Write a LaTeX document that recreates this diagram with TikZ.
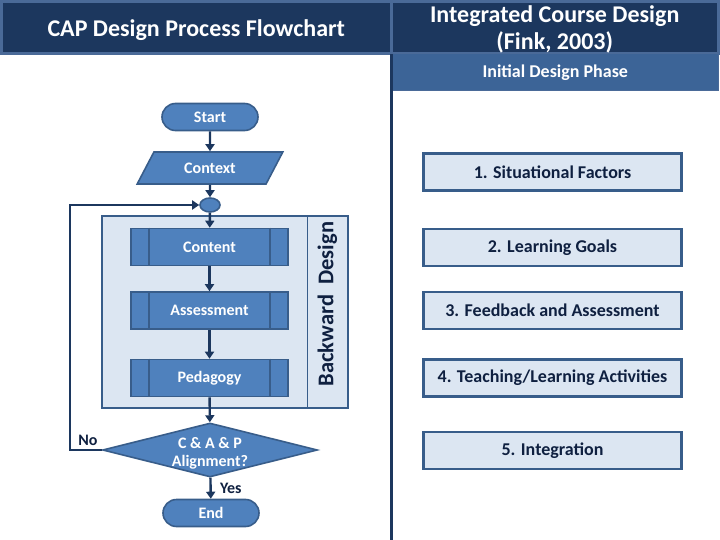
\documentclass[tikz,border=0pt]{standalone}
\usepackage{fontspec}
\setmainfont{Carlito}
\usetikzlibrary{shapes.geometric,shapes.misc,arrows.meta}
\definecolor{navy}{HTML}{1C375E}
\definecolor{navyedge}{HTML}{4A6A98}
\definecolor{phaseblue}{HTML}{3C6497}
\definecolor{flowfill}{HTML}{4F81BD}
\definecolor{flowedge}{HTML}{385D8A}
\definecolor{paleblue}{HTML}{DCE6F2}
\definecolor{darktext}{HTML}{0F2040}
\newcommand{\fsz}[1]{\fontsize{#1}{1.15\dimexpr#1pt\relax}\selectfont}

\tikzset{
	flowshape/.style={fill=flowfill,draw=flowedge,line width=1.6pt,text=white,font=\bfseries\fsz{16}},
	terminal/.style={flowshape,rounded rectangle,minimum width=96pt,minimum height=27pt,inner sep=0pt},
	procbox/.style={flowshape,rectangle,minimum width=157pt,minimum height=37pt,inner sep=0pt},
	stagebox/.style={rectangle,fill=paleblue,draw=flowedge,line width=2.2pt,text=darktext,font=\bfseries\fsz{18},minimum width=258pt,minimum height=37pt,inner sep=0pt},
	flow/.style={draw=navy,line width=2.4pt,-{Triangle[width=9pt,length=7pt]}},
}

\begin{document}
\begin{tikzpicture}[x=1pt,y=-1pt]
	\useasboundingbox (0,0) rectangle (720,540);
	% header bands
	\draw[fill=navy,draw=navyedge,line width=3pt] (1.5,1.5) rectangle node[text=white,font=\bfseries\fsz{24},yshift=-3pt] (title) {CAP Design Process Flowchart} (391,53.5);
	\draw[fill=navy,draw=navyedge,line width=3pt] (391,1.5) rectangle node[text=white,font=\bfseries\fsz{24},align=center,yshift=-2pt] (fink) {Integrated Course Design\\(Fink, 2003)} (718.5,53.5);
	\draw[fill=phaseblue,draw=navyedge,line width=1pt] (392,53.5) rectangle node[text=white,font=\bfseries\fsz{18}] (phase) {Initial Design Phase} (718.5,91);
	\draw[navy,line width=3.5pt] (391.5,54) -- (391.5,540);

	% backward design frame
	\draw[fill=paleblue,draw=flowedge,line width=1.6pt] (102,216) rectangle (348,408);
	\draw[flowedge,line width=1pt] (307,216) -- (307,408);
	\node[rotate=90,text=darktext,font=\bfseries\fsz{22.5}] (backward) at (327.5,304) {Backward\ \ Design};

	% flowchart
	\node[terminal] (start) at (210,117) {Start};
	\node[flowshape,trapezium,trapezium stretches=true,trapezium left angle=54,trapezium right angle=126,minimum width=146pt,minimum height=32pt,inner sep=0pt] (context) at (210,168) {Context};
	\node[ellipse,fill=flowfill,draw=flowedge,line width=1.6pt,minimum width=20pt,minimum height=14pt,inner sep=0pt] (merge) at (210,205) {};
	\node[procbox] (content) at (209.5,247) {Content};
	\node[procbox] (assess) at (209.5,310.5) {Assessment};
	\node[procbox] (pedag) at (209.5,378) {Pedagogy};
	\foreach \proc in {content,assess,pedag}{
		\draw[flowedge,line width=1.6pt] ([xshift=19pt]\proc.north west) -- ([xshift=19pt]\proc.south west);
		\draw[flowedge,line width=1.6pt] ([xshift=-19pt]\proc.north east) -- ([xshift=-19pt]\proc.south east);
	}
	\node[flowshape,diamond,shape aspect=3.8,minimum width=215pt,minimum height=54pt,inner sep=-4pt,align=center] (check) at (210,450) {\rule{0pt}{18pt}C \& A \& P\\Alignment?};
	\node[terminal] (end) at (211,513) {End};
	\coordinate (loopx) at (70,0);

	\draw[flow] (start) -- (context);
	\draw[flow] (context) -- (merge);
	\draw[flow] (merge) -- (content);
	\draw[flow] (content) -- (assess);
	\draw[flow] (assess) -- (pedag);
	\draw[flow] (pedag) -- (check);
	\draw[flow] (check) -- node[right,text=darktext,font=\bfseries\fsz{16},pos=0.5,xshift=5pt] (yes) {Yes} (end);
	\draw[flow] (check.west) -- (check.west -| loopx) |- (merge.west);
	\node[text=darktext,font=\bfseries\fsz{16}] (no) at (88,440) {No};

	% Fink stages
	\node[stagebox] (s1) at (552.5,172) {1. Situational Factors};
	\node[stagebox] (s2) at (552.5,247.5) {2. Learning Goals};
	\node[stagebox] (s3) at (552.5,310.5) {3. Feedback and Assessment};
	\node[stagebox] (s4) at (552.5,378) {4. Teaching/Learning Activities};
	\node[stagebox] (s5) at (552.5,450.5) {5. Integration};
\end{tikzpicture}
\end{document}
